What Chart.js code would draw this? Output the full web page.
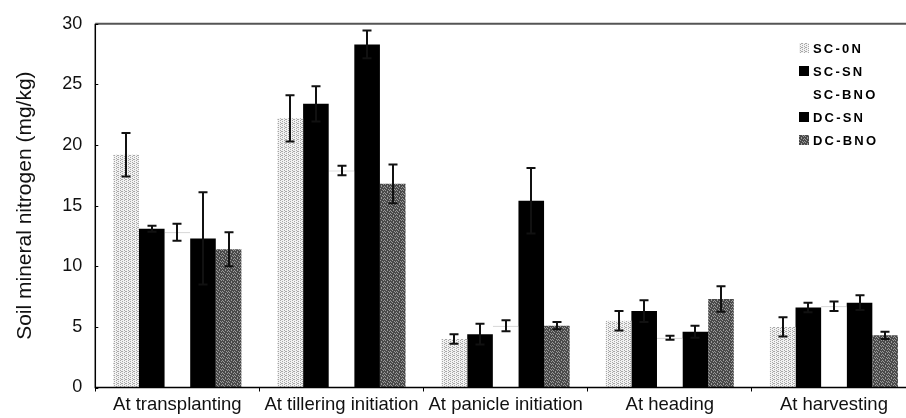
<!DOCTYPE html>
<html>
<head>
<meta charset="utf-8">
<script src="https://cdn.jsdelivr.net/npm/chart.js@4"></script>
<style>
  html, body { margin:0; padding:0; background:#fff; overflow:hidden; }
  #wrap { position:relative; width:920px; height:418px; }
</style>
</head>
<body>
<div id="wrap"><canvas id="chart"></canvas></div>
<script>
// ── dados ────────────────────────────────────────────────────────────────
const categories = ['At transplanting', 'At tillering initiation', 'At panicle initiation', 'At heading', 'At harvesting'];
const seriesNames = ['SC-0N', 'SC-SN', 'SC-BNO', 'DC-SN', 'DC-BNO'];

const sc0n     = [19.2, 22.2, 4.0, 5.5, 5.0];
const sc0nErr  = [1.8, 1.9, 0.4, 0.8, 0.8];
const scsn     = [13.1, 23.4, 4.4, 6.3, 6.6];
const scsnErr  = [0.25, 1.45, 0.85, 0.9, 0.4];
const scbno    = [12.8, 17.9, 5.1, 4.1, 6.7];
const scbnoErr = [0.7, 0.4, 0.45, 0.17, 0.4];
const dcsn     = [12.3, 28.3, 15.4, 4.6, 7.0];
const dcsnErr  = [3.8, 1.15, 2.7, 0.5, 0.6];
const dcbno    = [11.4, 16.8, 5.1, 7.3, 4.3];
const dcbnoErr = [1.4, 1.6, 0.3, 1.05, 0.3];

const yTicks = [0, 5, 10, 15, 20, 25, 30];

// ── padrões de preenchimento (pontilhado tipo impressão) ─────────────────
const tmp = document.createElement('canvas').getContext('2d');
function makePattern(size, bg, dot, cells) {
  const c = document.createElement('canvas'); c.width = size; c.height = size;
  const g = c.getContext('2d');
  g.fillStyle = bg; g.fillRect(0, 0, size, size);
  g.fillStyle = dot;
  cells.forEach(([x, y]) => g.fillRect(x, y, 1, 1));
  return tmp.createPattern(c, 'repeat');
}
const patLight = makePattern(4, '#f2f2f2', '#a8a8a8', [[0,0],[0,2],[2,1],[2,3],[1,3]]);
const patDark = makePattern(6, '#4a4a4a', '#9a9a9a',
  [[0,0],[3,0],[1,1],[5,1],[2,2],[4,3],[0,3],[1,4],[3,5],[5,4]]);

const fills = [patLight, '#000', '#fff', '#000', patDark];
const values = [sc0n, scsn, scbno, dcsn, dcbno];
const errors = [sc0nErr, scsnErr, scbnoErr, dcsnErr, dcbnoErr];
const FONT = '"Liberation Sans", Arial, sans-serif';

// ── plugins ──────────────────────────────────────────────────────────────
const errorBars = {
  id: 'errorBars',
  afterDatasetsDraw(chart) {
    const ctx = chart.ctx, y = chart.scales.y;
    ctx.save();
    ctx.strokeStyle = '#111'; ctx.lineWidth = 2;
    chart.data.datasets.forEach((ds, di) => {
      const meta = chart.getDatasetMeta(di);
      meta.data.forEach((bar, i) => {
        const v = ds.data[i], e = errors[di][i];
        const yt = y.getPixelForValue(v + e), yb = y.getPixelForValue(v - e);
        const x = Math.round(bar.x);
        ctx.beginPath();
        ctx.moveTo(x, yt); ctx.lineTo(x, yb);
        ctx.moveTo(x - 4.5, yt); ctx.lineTo(x + 4.5, yt);
        ctx.moveTo(x - 4.5, yb); ctx.lineTo(x + 4.5, yb);
        ctx.stroke();
      });
    });
    ctx.restore();
  }
};

const frame = {
  id: 'frame',
  afterDraw(chart) {
    const ctx = chart.ctx, ca = chart.chartArea, y = chart.scales.y;
    ctx.save();
    // linha superior
    ctx.strokeStyle = '#555'; ctx.lineWidth = 2;
    ctx.beginPath(); ctx.moveTo(ca.left, ca.top); ctx.lineTo(ca.right, ca.top); ctx.stroke();
    // eixos
    ctx.strokeStyle = '#000'; ctx.lineWidth = 1.5;
    ctx.beginPath(); ctx.moveTo(ca.left, ca.top); ctx.lineTo(ca.left, ca.bottom); ctx.lineTo(ca.right, ca.bottom); ctx.stroke();
    // marcas internas do eixo y
    ctx.lineWidth = 1;
    yTicks.forEach(t => {
      const py = Math.round(y.getPixelForValue(t)) + 0.5;
      ctx.beginPath(); ctx.moveTo(ca.left, py); ctx.lineTo(ca.left + 3, py); ctx.stroke();
    });
    ctx.restore();
  }
};

const legendBox = {
  id: 'legendBox',
  afterDraw(chart) {
    const ctx = chart.ctx;
    ctx.save();
    ctx.font = 'bold 13px ' + FONT;
    ctx.letterSpacing = '2.2px';
    ctx.textBaseline = 'middle';
    seriesNames.forEach((name, i) => {
      const cy = 48 + i * 23;
      ctx.fillStyle = fills[i];
      ctx.fillRect(799, cy - 5, 10, 10);
      ctx.fillStyle = '#000';
      ctx.fillText(name, 813, cy + 1);
    });
    ctx.restore();
  }
};

// ── gráfico ──────────────────────────────────────────────────────────────
const ctx = document.getElementById('chart');
new Chart(ctx, {
  type: 'bar',
  data: {
    labels: categories,
    datasets: seriesNames.map((name, i) => ({
      label: name,
      data: values[i],
      backgroundColor: fills[i],
      borderColor: i === 2 ? '#c0c0c0' : 'rgba(0,0,0,0)',
      borderWidth: i === 2 ? { top: 1, left: 0, right: 0, bottom: 0 } : 0,
      borderSkipped: 'bottom',
      categoryPercentage: 0.78,
      barPercentage: 1.0
    }))
  },
  options: {
    responsive: true,
    maintainAspectRatio: false,
    animation: false,
    layout: { padding: { left: 0, right: 4, top: 17, bottom: 0 }, autoPadding: false },
    plugins: { legend: { display: false }, tooltip: { enabled: false } },
    scales: {
      x: {
        offset: true,
        border: { display: false },
        grid: { display: true, offset: true, drawOnChartArea: false, tickLength: 4, color: '#000' },
        ticks: { color: '#111', padding: 2, maxRotation: 0, autoSkip: false,
                 font: { size: 18.5, family: FONT } },
        afterFit: s => { s.height = 30.5; }
      },
      y: {
        min: 0, max: 30,
        border: { display: false },
        grid: { display: false, drawTicks: false },
        ticks: { stepSize: 5, color: '#111', padding: 13,
                 font: { size: 18, family: FONT } },
        title: { display: true, text: 'Soil mineral nitrogen (mg/kg)', color: '#111',
                 padding: { top: 13, bottom: 0 },
                 font: { size: 21, family: FONT } },
        afterFit: s => { s.width = 95.3; }
      }
    }
  },
  plugins: [errorBars, frame, legendBox]
});
</script>
</body>
</html>
